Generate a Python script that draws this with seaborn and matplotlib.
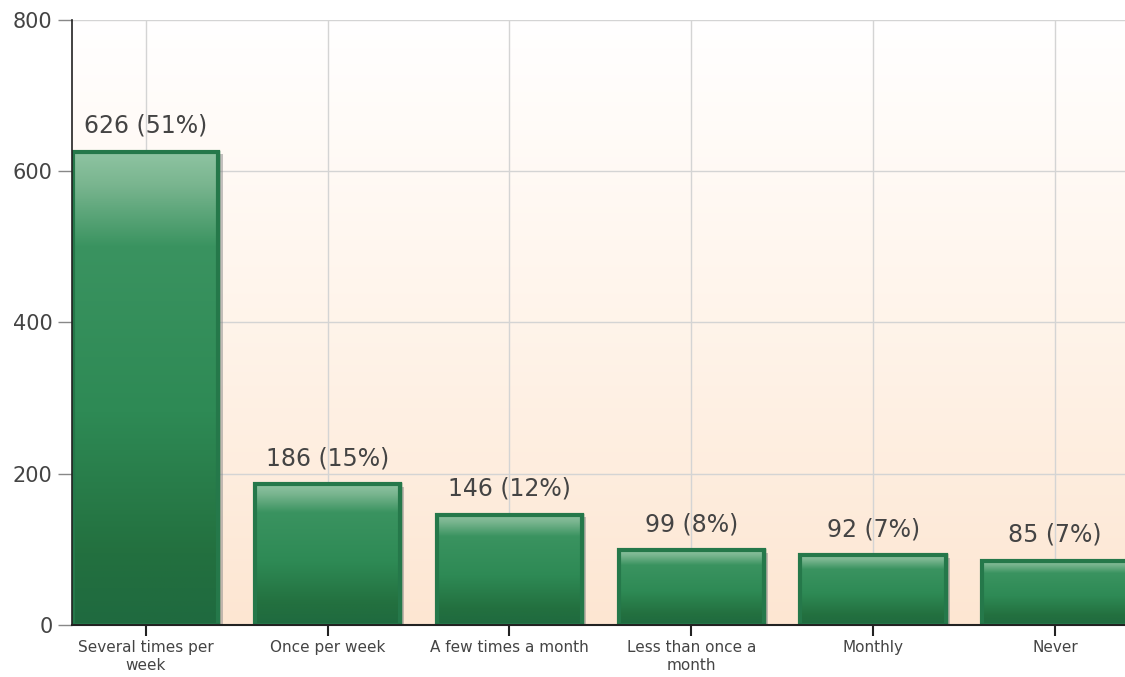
import numpy as np
import pandas as pd
import matplotlib
matplotlib.use("Agg")
import matplotlib.pyplot as plt
import seaborn as sns
from matplotlib.colors import LinearSegmentedColormap
from matplotlib.patches import Rectangle
import matplotlib.patheffects as pe

categories = ["Several times per\nweek", "Once per week", "A few times a month",
              "Less than once a\nmonth", "Monthly", "Never"]
counts = [626, 186, 146, 99, 92, 85]
percents = [51, 15, 12, 8, 7, 7]
yticks = [0, 200, 400, 600, 800]

sns.set_theme(style="white")
plt.rcParams['font.family'] = ['DejaVu Sans']

fig = plt.figure(figsize=(11.25, 6.77), dpi=100)
ax = fig.add_axes([0.064, 0.0768, 0.936, 0.8937])

df = pd.DataFrame({"cat": categories, "count": counts})
sns.barplot(data=df, x="cat", y="count", ax=ax, color="#2e8a55", width=0.8,
            edgecolor="#236b40", linewidth=2.5, saturation=1, zorder=3)

ax.set_xlim(-0.405, 5.385)
ax.set_ylim(0, 800)
ax.set_yticks(yticks)
ax.set_xlabel("")
ax.set_ylabel("")

# background gradient
bg = LinearSegmentedColormap.from_list("bg", ["#fde6d2", "#fff4ea", "#ffffff"])
grad = np.linspace(0, 1, 256).reshape(-1, 1)
ax.imshow(grad, aspect="auto", cmap=bg, extent=[0, 1, 0, 1],
          transform=ax.transAxes, origin="lower", zorder=0)

# grid
ax.grid(True, color="#d4d4d4", linewidth=1, zorder=1)
ax.set_axisbelow(True)

# bar gradients
barcm = LinearSegmentedColormap.from_list(
    "bar", [(0.0, "#1f6a3f"), (0.15, "#23703f"), (0.45, "#2e8a55"),
            (0.8, "#3a9360"), (0.93, "#79b58f"), (1.0, "#8fc4a2")])
for p in list(ax.patches):
    x0, y0 = p.get_x(), p.get_y()
    w, h = p.get_width(), p.get_height()
    p.set_path_effects([pe.SimplePatchShadow(offset=(3, -2), shadow_rgbFace="#888888", alpha=0.5),
                        pe.Normal()])
    im = ax.imshow(grad, aspect="auto", cmap=barcm, extent=[x0, x0 + w, y0, y0 + h],
                   origin="lower", zorder=3.5)
    im.set_clip_path(p)
    border = Rectangle((x0, y0), w, h, fill=False, edgecolor="#25784a",
                       linewidth=3, zorder=4)
    ax.add_patch(border)

for i, (c, pc) in enumerate(zip(counts, percents)):
    ax.annotate(f"{c} ({pc}%)", (i, c), xytext=(0, 10), textcoords="offset points",
                ha="center", va="bottom", fontsize=17, color="#444444", zorder=5)

for s in ["top", "right"]:
    ax.spines[s].set_visible(False)
ax.spines["left"].set_color("#222222")
ax.spines["bottom"].set_color("#222222")
ax.spines["left"].set_linewidth(1.2)
ax.spines["bottom"].set_linewidth(1.5)
ax.spines["left"].set_zorder(6)
ax.spines["bottom"].set_zorder(6)

ax.tick_params(axis="y", labelsize=15, labelcolor="#444444", left=True, length=10,
               color="#888888", width=1, pad=4)
ax.tick_params(axis="x", labelsize=11, labelcolor="#444444", bottom=True, length=8,
               color="#222222", width=1.5, pad=3)

fig.savefig("out.png", dpi=100)
